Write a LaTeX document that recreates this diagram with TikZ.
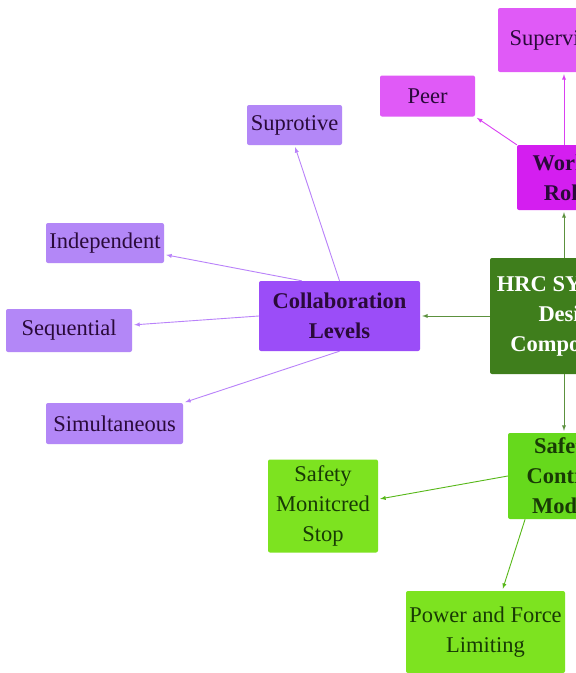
\documentclass[tikz,border=0pt]{standalone}
\usepackage{fontspec}
\setmainfont{Liberation Serif}
\usepackage{tikz}
\usetikzlibrary{shapes}
\usetikzlibrary{arrows}

\definecolor{magLight}{HTML}{E05AF7}
\definecolor{magDark}{HTML}{D41EF0}
\definecolor{purLight}{HTML}{B387F7}
\definecolor{purDark}{HTML}{9B4DF8}
\definecolor{grnDark}{HTML}{3F7E1C}
\definecolor{grnMid}{HTML}{66D91C}
\definecolor{grnLight}{HTML}{7DE320}
\definecolor{inkPur}{HTML}{2A0A3A}
\definecolor{inkGrn}{HTML}{183A05}

\begin{document}
\begin{tikzpicture}[x=1pt,y=-1pt]
\tikzstyle{box}=[rectangle,rounded corners=2pt,align=center,inner sep=0pt,font=\fontsize{22.5}{30}\selectfont]
\tikzstyle{leaf}=[box,text=inkPur]
\tikzstyle{hub}=[box,font=\fontsize{22.5}{30}\selectfont\bfseries]
\tikzstyle{link}=[->,>=latex,line width=0.9pt,shorten >=2pt]
\useasboundingbox (0,0) rectangle (576,673);
\fill[white] (0,0) rectangle (576,673);
\clip (0,0) rectangle (576,673);
% centre
\node[hub,fill=grnDark,text=white,minimum width=162pt,minimum height=116pt] (hrc) at (571,316) {HRC SYSTEM\\Design\\Components};
% worker roles
\node[hub,fill=magDark,text=inkPur,minimum width=106pt,minimum height=65pt] (work) at (570,177.5) {Worker\\Roles};
\node[leaf,fill=magLight,minimum width=132pt,minimum height=64pt] (sup) at (564,40) {Supervisory};
\node[leaf,fill=magLight,minimum width=95pt,minimum height=41pt] (peer) at (427.5,96) {Peer};
% collaboration levels
\node[hub,fill=purDark,text=inkPur,minimum width=161pt,minimum height=70pt] (coll) at (339.5,316) {Collaboration\\Levels};
\node[leaf,fill=purLight,minimum width=95pt,minimum height=40pt] (supr) at (294.5,125) {Suprotive};
\node[leaf,fill=purLight,minimum width=118pt,minimum height=40pt] (ind) at (105,243) {Independent};
\node[leaf,fill=purLight,minimum width=126pt,minimum height=43pt] (seq) at (69,330.5) {Sequential};
\node[leaf,fill=purLight,minimum width=137pt,minimum height=41pt] (sim) at (114.5,423.5) {Simultaneous};
% safety control modes
\node[hub,fill=grnMid,text=inkGrn,minimum width=112pt,minimum height=86pt] (scm) at (564,476) {Safety\\Control\\Modes};
\node[leaf,fill=grnLight,text=inkGrn,minimum width=110pt,minimum height=93pt] (sms) at (323,506) {Safety\\Monitcred\\Stop};
\node[leaf,fill=grnLight,text=inkGrn,minimum width=159pt,minimum height=82pt] (pfl) at (485.5,632) {Power and Force\\Limiting};
% connectors
\draw[link,color=grnDark!85] (sup.south |- hrc.north) -- (sup.south |- work.south);
\draw[link,color=grnDark!85] (scm.north |- hrc.south) -- (scm.north);
\draw[link,color=grnDark!85] (hrc.west) -- (coll.east);
\draw[link,color=magDark!85] (sup.south |- work.north) -- (sup.south);
\draw[link,color=magDark!85] (work.north west) -- (peer.south east);
\draw[link,color=purDark!70] (coll.north) -- (supr.south);
\draw[link,color=purDark!70] (coll.137) -- (ind.-11);
\draw[link,color=purDark!70] (coll.west) -- (seq.5);
\draw[link,color=purDark!70] (coll.south) -- (sim.north east);
\draw[link,color=grnMid!85!black] (scm.west) -- (sms.7);
\draw[link,color=grnMid!85!black] (scm.228) -- (pfl.68);
\end{tikzpicture}
\end{document}
